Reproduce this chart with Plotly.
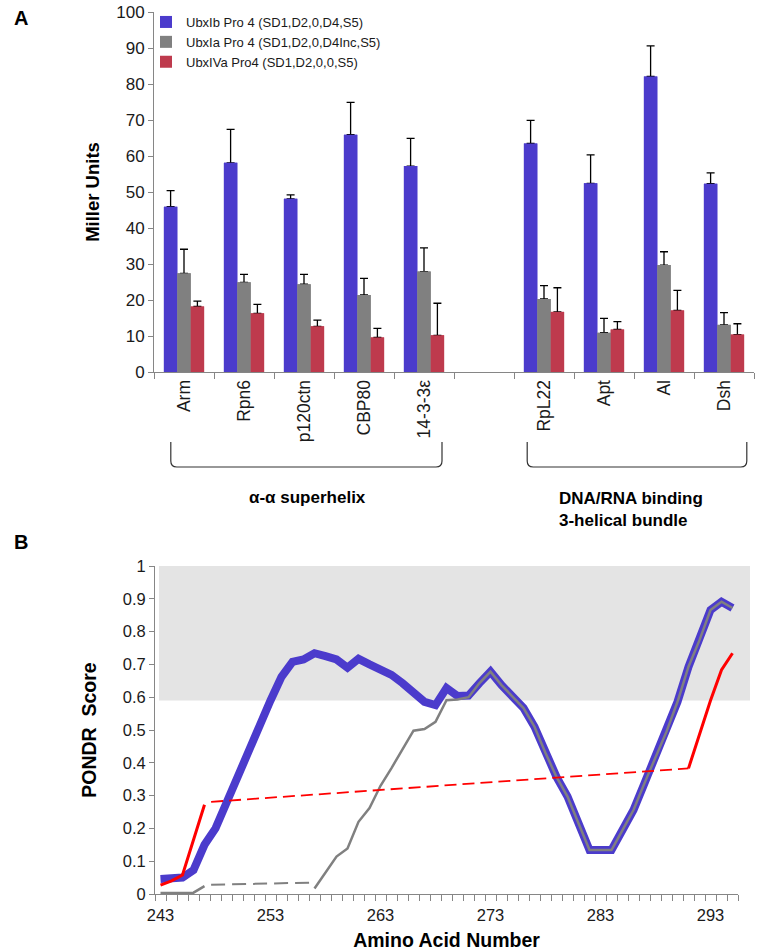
import plotly.graph_objects as go

# ---------------- Panel A data ----------------
categories = ["Arm", "Rpn6", "p120ctn", "CBP80", "14-3-3ε", " ", "RpL22", "Apt", "Al", "Dsh"]
bar_cats = ["Arm", "Rpn6", "p120ctn", "CBP80", "14-3-3ε", "RpL22", "Apt", "Al", "Dsh"]

ubx_ib = [45.9, 58.1, 48.1, 65.9, 57.2, 63.5, 52.4, 82.1, 52.3]
ubx_ib_err = [50.4, 67.4, 49.2, 74.9, 64.9, 69.9, 60.3, 90.6, 55.3]
ubx_ia = [27.4, 24.9, 24.4, 21.4, 27.9, 20.3, 10.9, 29.7, 13.1]
ubx_ia_err = [34.1, 27.1, 27.1, 26.0, 34.5, 24.0, 14.9, 33.4, 16.5]
ubx_iva = [18.2, 16.3, 12.7, 9.6, 10.2, 16.7, 11.8, 17.1, 10.4]
ubx_iva_err = [19.7, 18.8, 14.4, 12.1, 19.1, 23.4, 14.0, 22.7, 13.4]

series_names = ["UbxIb Pro 4 (SD1,D2,0,D4,S5)",
                "UbxIa Pro 4 (SD1,D2,0,D4Inc,S5)",
                "UbxIVa Pro4 (SD1,D2,0,0,S5)"]
bar_colors = ["#4B3BCC", "#808080", "#BE3A4D"]

# ---------------- Panel B data ----------------
residues = list(range(243, 296))
blue_score = [0.046, 0.046, 0.050, 0.073, 0.150, 0.200, 0.280, 0.357, 0.430, 0.510,
              0.590, 0.662, 0.708, 0.715, 0.734, 0.725, 0.715, 0.690, 0.717, 0.700,
              0.683, 0.668, 0.643, 0.617, 0.586, 0.576, 0.628, 0.604, 0.605, 0.643,
              0.678, 0.637, 0.602, 0.567, 0.510, 0.430, 0.357, 0.297, 0.216, 0.134,
              0.134, 0.134, 0.195, 0.256, 0.338, 0.419, 0.495, 0.586, 0.693, 0.774,
              0.866, 0.891, 0.872]
gray_score = [0.003, 0.003, 0.003, 0.004, 0.024, None, None, None, None, None,
              None, None, None, None, 0.017, 0.064, 0.114, 0.139, 0.220, 0.262,
              0.330, 0.384, 0.439, 0.498, 0.503, 0.525, 0.591, 0.593, 0.600, 0.643,
              0.678, 0.637, 0.602, 0.567, 0.510, 0.430, 0.357, 0.297, 0.216, 0.134,
              0.134, 0.134, 0.195, 0.256, 0.338, 0.419, 0.495, 0.586, 0.693, 0.774,
              0.866, 0.891, 0.872]
red_score = [0.027, 0.040, 0.058, 0.165, 0.272] + [None] * 43 + [0.383, 0.490, 0.590, 0.683, 0.734]
gray_dash_x = [247.6, 257.0]
gray_dash_y = [0.028, 0.035]
red_dash_x = [247.6, 291.0]
red_dash_y = [0.281, 0.383]
disorder_threshold = 0.59
x_tick_labels = [243, 253, 263, 273, 283, 293]

FONT = "Liberation Sans, Arial, sans-serif"
AXC = "#868686"
TXT = "#1a1a1a"

fig = go.Figure()

values = [ubx_ib, ubx_ia, ubx_iva]
errs = [ubx_ib_err, ubx_ia_err, ubx_iva_err]
for i in range(3):
    fig.add_trace(go.Bar(
        x=bar_cats, y=values[i], name=series_names[i],
        marker=dict(color=bar_colors[i], line=dict(width=0)),
        offsetgroup=str(i), legendgroup=str(i),
        error_y=dict(type="data", symmetric=False,
                     array=[e - v for e, v in zip(errs[i], values[i])],
                     arrayminus=[0] * len(values[i]),
                     color="#000000", thickness=1.3, width=4),
        xaxis="x", yaxis="y"))
# cover the lower error caps with identical bars drawn on top
for i in range(3):
    fig.add_trace(go.Bar(
        x=bar_cats, y=values[i], showlegend=False,
        marker=dict(color=bar_colors[i], line=dict(width=0)),
        offsetgroup=str(i), xaxis="x", yaxis="y"))

# Panel B lines
fig.add_trace(go.Scatter(x=residues, y=blue_score, mode="lines", showlegend=False,
                         line=dict(color="#4B3BCC", width=8), xaxis="x2", yaxis="y2"))
fig.add_trace(go.Scatter(x=residues, y=gray_score, mode="lines", showlegend=False,
                         connectgaps=False,
                         line=dict(color="#808080", width=2.5), xaxis="x2", yaxis="y2"))
fig.add_trace(go.Scatter(x=gray_dash_x, y=gray_dash_y, mode="lines", showlegend=False,
                         line=dict(color="#808080", width=2, dash="14px,7px"),
                         xaxis="x2", yaxis="y2"))
fig.add_trace(go.Scatter(x=red_dash_x, y=red_dash_y, mode="lines", showlegend=False,
                         line=dict(color="#FF0000", width=1.8, dash="12px,6px"),
                         xaxis="x2", yaxis="y2"))
fig.add_trace(go.Scatter(x=residues, y=red_score, mode="lines", showlegend=False,
                         connectgaps=False,
                         line=dict(color="#FF0000", width=3), xaxis="x2", yaxis="y2"))

W, H = 760, 951
def px(x):
    return min(1.0, max(0.0, x / W))
def py(y):
    return min(1.0, max(0.0, 1 - y / H))

shapes = [
    dict(type="rect", xref="paper", yref="y2", x0=px(159), x1=px(750),
         y0=disorder_threshold, y1=1.0, fillcolor="#E4E4E4", line=dict(width=0),
         layer="below"),
]
# brackets under category groups
def bracket(xa, xb, yt, yb, r):
    return ("M {xa},{yt} L {xa},{yb1} Q {xa},{yb} {xa2},{yb} L {xb2},{yb} "
            "Q {xb},{yb} {xb},{yb1} L {xb},{yt}").format(
        xa=xa, xb=xb, yt=yt, yb=yb, yb1=yb + r, xa2=xa + 0.1, xb2=xb - 0.1)
for xa, xb in [(-0.22, 4.3), (5.72, 9.38)]:
    shapes.append(dict(type="path", xref="x", yref="paper",
                       path=bracket(xa, xb, py(442), py(467), 6 / H),
                       line=dict(color="#333333", width=1.2)))

annotations = [
    dict(text="<b>A</b>", x=px(12), y=py(18), xref="paper", yref="paper",
         xanchor="left", yanchor="middle", showarrow=False,
         font=dict(family=FONT, size=20, color="#000")),
    dict(text="<b>B</b>", x=px(12), y=py(542), xref="paper", yref="paper",
         xanchor="left", yanchor="middle", showarrow=False,
         font=dict(family=FONT, size=20, color="#000")),
    dict(text="<b>α-α superhelix</b>", x=px(307), y=py(497), xref="paper", yref="paper",
         xanchor="center", yanchor="middle", showarrow=False,
         font=dict(family=FONT, size=17, color="#000")),
    dict(text="<b>DNA/RNA binding<br>3-helical bundle</b>", x=px(557), y=py(487),
         xref="paper", yref="paper", xanchor="left", yanchor="top", align="left",
         showarrow=False, font=dict(family=FONT, size=17, color="#000")),
]

fig.update_layout(
    width=W, height=H,
    margin=dict(l=0, r=0, t=0, b=0, autoexpand=False),
    paper_bgcolor="white", plot_bgcolor="white",
    font=dict(family=FONT, color=TXT),
    barmode="group", bargap=0.33, bargroupgap=0,
    hovermode=False,
    showlegend=True,
    legend=dict(x=px(146), y=py(7), xanchor="left", yanchor="top",
                bgcolor="rgba(0,0,0,0)", font=dict(family=FONT, size=13, color=TXT),
                traceorder="grouped", tracegroupgap=0),
    xaxis=dict(domain=[px(154), px(754)], anchor="y",
               categoryorder="array", categoryarray=categories,
               range=[-0.5, 9.5], tickangle=-90, automargin=False,
               showline=True, linecolor=AXC, linewidth=1,
               ticks="outside", ticklen=6, tickcolor=AXC, tickson="boundaries",
               tickfont=dict(family=FONT, size=17.5, color=TXT),
               showgrid=False, zeroline=False, fixedrange=True),
    yaxis=dict(domain=[py(372), py(12)], anchor="x", automargin=False,
               range=[0, 100], dtick=10, tick0=0,
               showline=True, linecolor=AXC, linewidth=1,
               ticks="outside", ticklen=5, tickcolor=AXC,
               tickfont=dict(family=FONT, size=17, color=TXT),
               showgrid=False, zeroline=False,
               title=dict(text="<b>Miller Units</b>", standoff=11,
                          font=dict(family=FONT, size=18.5, color="#000"))),
    xaxis2=dict(domain=[px(155), px(738)], anchor="y2", automargin=False,
                range=[242.5, 295.5],
                tickmode="array", tickvals=x_tick_labels,
                ticktext=[str(v) for v in x_tick_labels],
                ticks="outside", ticklen=0, tickcolor=AXC, ticklabelstandoff=6,
                minor=dict(tickmode="linear", tick0=242.5, dtick=1,
                           ticks="outside", ticklen=6, tickcolor=AXC),
                showline=True, linecolor=AXC, linewidth=1,
                tickfont=dict(family=FONT, size=16.5, color=TXT),
                showgrid=False, zeroline=False,
                title=dict(text="<b>Amino Acid Number</b>", standoff=10,
                           font=dict(family=FONT, size=19.5, color="#000"))),
    yaxis2=dict(domain=[py(894), py(566)], anchor="x2", automargin=False,
                range=[0, 1], dtick=0.1, tick0=0,
                showline=True, linecolor=AXC, linewidth=1,
                ticks="outside", ticklen=5, tickcolor=AXC,
                tickfont=dict(family=FONT, size=16.5, color=TXT),
                showgrid=False, zeroline=False,
                title=dict(text="<b>PONDR\u00a0 Score</b>", standoff=20,
                           font=dict(family=FONT, size=19.5, color="#000"))),
    shapes=shapes,
    annotations=annotations,
)

fig.write_html("out.html", config={"displayModeBar": False},
               post_script="document.body.style.margin='0';"
                           "document.documentElement.style.overflow='hidden';")
